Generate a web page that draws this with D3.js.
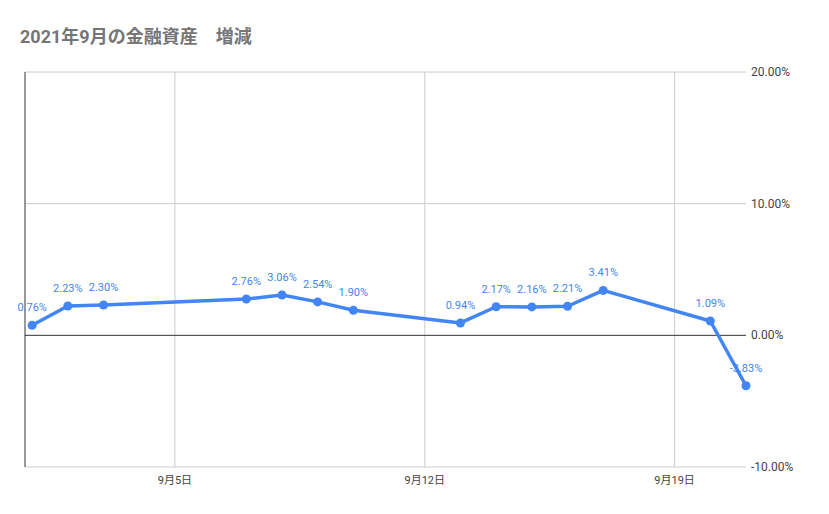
<!DOCTYPE html>
<html>
<head>
<meta charset="utf-8">
<script src="https://cdn.jsdelivr.net/npm/d3@7"></script>
<style>
  body { margin: 0; background: #fff; font-family: Roboto, "Noto Sans CJK JP", sans-serif; }
</style>
</head>
<body>
<div id="chart"></div>
<script>
const days = [1, 2, 3, 7, 8, 9, 10, 13, 14, 15, 16, 17, 20, 21];
const values = [0.76, 2.23, 2.30, 2.76, 3.06, 2.54, 1.90, 0.94, 2.17, 2.16, 2.21, 3.41, 1.09, -3.83];
const tickDays = [5, 12, 19];
const yTicks = [-10, 0, 10, 20];

const W = 829, H = 514;
const svg = d3.select("#chart").append("svg").attr("width", W).attr("height", H);

svg.append("text")
  .attr("x", 20).attr("y", 43)
  .attr("font-size", 18).attr("font-weight", "bold").attr("fill", "#757575")
  .attr("font-family", "Roboto, 'Noto Sans CJK JP'")
  .text("2021年9月の金融資産\u3000増減");

const x = d3.scaleLinear().domain([0.8, 21]).range([25, 746]);
const y = d3.scaleLinear().domain([-10, 20]).range([467, 72]);

// grid
svg.selectAll(".hg").data(yTicks.filter(d => d !== 0)).enter().append("line")
  .attr("x1", 25).attr("x2", 746)
  .attr("y1", d => y(d)).attr("y2", d => y(d))
  .attr("stroke", "#ccc");
svg.selectAll(".vg").data(tickDays).enter().append("line")
  .attr("x1", d => x(d)).attr("x2", d => x(d))
  .attr("y1", 72).attr("y2", 467)
  .attr("stroke", "#ccc");
svg.append("line").attr("x1", 25).attr("x2", 25).attr("y1", 72).attr("y2", 467).attr("stroke", "#333");
svg.append("line").attr("x1", 25).attr("x2", 746).attr("y1", y(0)).attr("y2", y(0)).attr("stroke", "#333");

// axis labels
svg.selectAll(".yl").data(yTicks).enter().append("text")
  .attr("x", 751).attr("y", d => y(d) + 4)
  .attr("font-size", 12).attr("fill", "#444")
  .text(d => d.toFixed(2) + "%");
svg.selectAll(".xl").data(tickDays).enter().append("text")
  .attr("x", d => x(d)).attr("y", 484)
  .attr("text-anchor", "middle").attr("font-size", 11).attr("fill", "#444")
  .text(d => "9月" + d + "日");

const pts = days.map((d, i) => ({ d, v: values[i] }));
svg.append("path").datum(pts)
  .attr("fill", "none").attr("stroke", "#4285f4").attr("stroke-width", 3.5)
  .attr("stroke-linejoin", "round")
  .attr("d", d3.line().x(p => x(p.d)).y(p => y(p.v)));
svg.selectAll(".pt").data(pts).enter().append("circle")
  .attr("cx", p => x(p.d)).attr("cy", p => y(p.v)).attr("r", 4.5)
  .attr("fill", "#4285f4");
svg.selectAll(".lb").data(pts).enter().append("text")
  .attr("x", p => x(p.d)).attr("y", p => y(p.v) - 14)
  .attr("text-anchor", "middle").attr("font-size", 11).attr("fill", "#4285f4")
  .text(p => p.v.toFixed(2) + "%");
</script>
</body>
</html>
